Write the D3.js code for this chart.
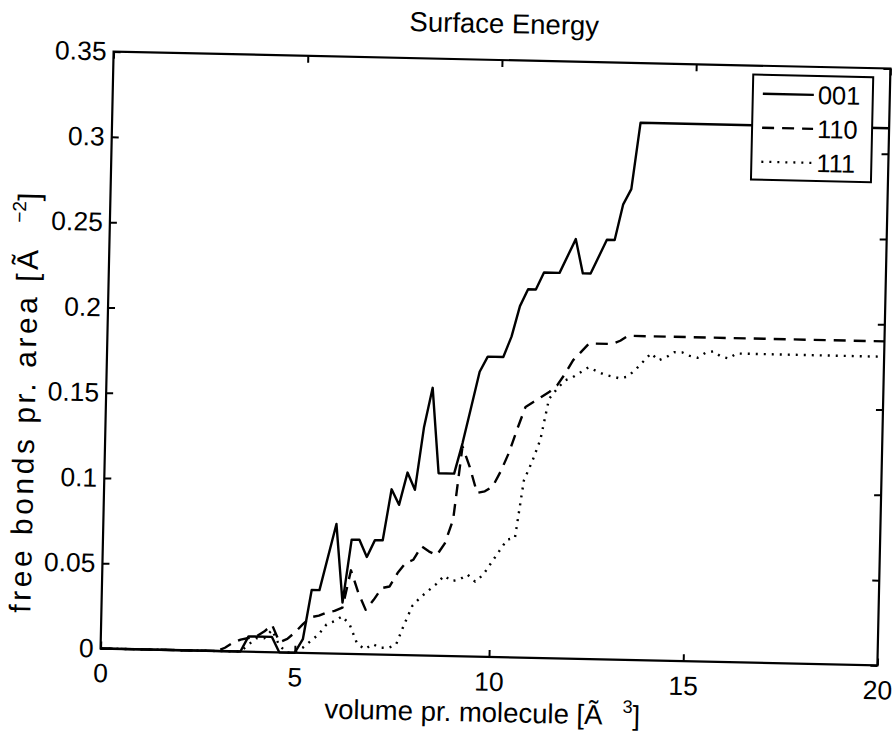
<!DOCTYPE html>
<html>
<head>
<meta charset="utf-8">
<script src="https://cdn.jsdelivr.net/npm/d3@7"></script>
<style>
  body { margin: 0; background: #fff; }
  svg text { font-family: "Liberation Sans", Arial, Helvetica, sans-serif; fill: #000; }
</style>
</head>
<body>
<svg id="chart" width="893" height="736"></svg>
<script>
// surface energy plot, free bonds per area vs volume per molecule
// values

// x (volume pr. molecule) and y (free bonds pr. area) for each facet
var x001 = [0, 3.6, 3.8, 4.4, 4.6, 5.0, 5.2, 5.4, 5.6, 6.0, 6.2, 6.4, 6.6, 6.8, 7.0, 7.2, 7.4, 7.6, 7.8, 8.0, 8.2, 8.4, 8.6, 9.0, 9.2, 9.4, 9.6, 9.8, 10.2, 10.4, 10.6, 10.8, 11.0, 11.2, 11.6, 12.0, 12.2, 12.4, 12.8, 13.0, 13.2, 13.4, 13.6, 20];
var y001 = [0, 0, 0.009, 0.009, 0, 0, 0.008, 0.037, 0.037, 0.076, 0.03, 0.067, 0.067, 0.057, 0.067, 0.067, 0.097, 0.088, 0.107, 0.097, 0.134, 0.157, 0.107, 0.107, 0.125, 0.146, 0.167, 0.176, 0.176, 0.188, 0.206, 0.216, 0.216, 0.226, 0.226, 0.246, 0.226, 0.226, 0.246, 0.246, 0.267, 0.276, 0.315, 0.315];

var x110 = [0, 3.0, 3.2, 3.4, 3.6, 3.8, 4.0, 4.2, 4.4, 4.6, 4.8, 5.0, 5.2, 5.4, 5.6, 5.8, 6.0, 6.2, 6.4, 6.6, 6.8, 7.0, 7.2, 7.4, 7.6, 7.8, 8.0, 8.2, 8.4, 8.6, 8.8, 9.0, 9.2, 9.4, 9.6, 9.8, 10.0, 10.2, 10.4, 10.6, 10.8, 11.0, 11.2, 11.4, 11.6, 11.8, 12.0, 12.2, 12.4, 13.0, 13.2, 13.4, 20];
var y110 = [0, 0, 0.002, 0.005, 0.007, 0.008, 0.009, 0.012, 0.016, 0.006, 0.008, 0.012, 0.017, 0.021, 0.022, 0.024, 0.025, 0.027, 0.049, 0.036, 0.026, 0.032, 0.039, 0.040, 0.048, 0.054, 0.056, 0.064, 0.061, 0.059, 0.066, 0.080, 0.123, 0.111, 0.096, 0.097, 0.100, 0.109, 0.120, 0.134, 0.147, 0.150, 0.153, 0.156, 0.160, 0.167, 0.175, 0.180, 0.185, 0.185, 0.187, 0.190, 0.190];

var x111 = [0, 3.6, 3.8, 4.0, 4.2, 4.4, 4.6, 4.8, 5.0, 5.2, 5.4, 5.6, 5.8, 6.0, 6.2, 6.4, 6.6, 6.8, 7.0, 7.2, 7.4, 7.6, 7.8, 8.0, 8.2, 8.4, 8.6, 8.8, 9.0, 9.2, 9.4, 9.6, 9.8, 10.0, 10.2, 10.4, 10.6, 10.8, 11.0, 11.2, 11.4, 11.6, 11.8, 12.0, 12.2, 12.4, 12.6, 12.8, 13.0, 13.2, 13.4, 13.6, 13.8, 14.0, 14.2, 14.4, 14.6, 14.8, 15.0, 15.2, 15.4, 15.6, 15.8, 16.0, 16.2, 20];
var y111 = [0, 0, 0.004, 0.008, 0.008, 0.013, 0.004, 0, 0, 0.003, 0.007, 0.011, 0.017, 0.019, 0.022, 0.017, 0.006, 0.003, 0.006, 0.004, 0.004, 0.006, 0.018, 0.029, 0.034, 0.038, 0.042, 0.047, 0.044, 0.045, 0.048, 0.044, 0.048, 0.055, 0.062, 0.069, 0.070, 0.104, 0.115, 0.128, 0.152, 0.158, 0.163, 0.165, 0.168, 0.171, 0.169, 0.167, 0.166, 0.165, 0.166, 0.170, 0.175, 0.180, 0.176, 0.178, 0.181, 0.181, 0.179, 0.178, 0.181, 0.182, 0.179, 0.178, 0.181, 0.181];

var seriesNames = ['001', '110', '111'];

// ticks
var xTicks = [0, 5, 10, 15, 20];
var yTicks = [0, 0.05, 0.1, 0.15, 0.2, 0.25, 0.3, 0.35];
var yTickLabels = ['0', '0.05', '0.1', '0.15', '0.2', '0.25', '0.3', '0.35'];

var svg = d3.select('#chart');

// plot box (the scan is a bit tilted, so the whole figure gets rotated a touch)
// note: can't call it "top", that's window.top
var boxLeft = 107, boxRight = 884, boxTop = 60, boxBottom = 657;
var tilt = 1.25;
var fig = svg.append('g')
    .attr('transform', 'rotate(' + tilt + ',' + (boxLeft + boxRight) / 2 + ',' + (boxTop + boxBottom) / 2 + ')');

var xScale = d3.scaleLinear().domain([0, 20]).range([boxLeft, boxRight]);
var yScale = d3.scaleLinear().domain([0, 0.35]).range([boxBottom, boxTop]);

// styles per series
var dashes = { '001': null, '110': '12,8', '111': '2,6' };
var seriesData = {
    '001': d3.zip(x001, y001),
    '110': d3.zip(x110, y110),
    '111': d3.zip(x111, y111)
};

var line = d3.line()
    .x(function (d) { return xScale(d[0]); })
    .y(function (d) { return yScale(d[1]); });

seriesNames.forEach(function (name) {
    fig.append('path')
        .datum(seriesData[name])
        .attr('d', line)
        .attr('fill', 'none')
        .attr('stroke', '#000')
        .attr('stroke-width', 2.4)
        .attr('stroke-linejoin', 'round')
        .attr('stroke-dasharray', dashes[name]);
});

// axes, ticks point inward like matlab
var tick = 7;
var xAxis = d3.axisBottom(xScale).tickValues(xTicks).tickSize(-tick).tickSizeOuter(0).tickPadding(15);
var yAxis = d3.axisLeft(yScale).tickValues(yTicks).tickSize(-tick).tickSizeOuter(0).tickPadding(7)
    .tickFormat(function (d, i) { return yTickLabels[i]; });

var gx = fig.append('g').attr('transform', 'translate(0,' + boxBottom + ')').call(xAxis);
var gy = fig.append('g').attr('transform', 'translate(' + boxLeft + ',0)').call(yAxis);
var gt = fig.append('g').attr('transform', 'translate(0,' + boxTop + ')')
    .call(d3.axisTop(xScale).tickValues(xTicks).tickSize(-tick).tickSizeOuter(0).tickFormat(''));
var gr = fig.append('g').attr('transform', 'translate(' + boxRight + ',0)')
    .call(d3.axisRight(yScale).tickValues(yTicks).tickSize(-tick).tickSizeOuter(0).tickFormat(''));

[gx, gy, gt, gr].forEach(function (g) {
    g.select('.domain').remove();
    g.selectAll('line').attr('stroke', '#000').attr('stroke-width', 2);
    g.selectAll('text').style('font-size', '26.5px').attr('fill', '#000');
});

fig.append('rect')
    .attr('x', boxLeft).attr('y', boxTop)
    .attr('width', boxRight - boxLeft).attr('height', boxBottom - boxTop)
    .attr('fill', 'none').attr('stroke', '#000').attr('stroke-width', 2.2);

// title and labels
fig.append('text')
    .attr('x', 497).attr('y', 33)
    .attr('text-anchor', 'middle')
    .style('font-size', '27.5px')
    .text('Surface Energy');

var xl = fig.append('text')
    .attr('x', 490).attr('y', 722)
    .attr('text-anchor', 'middle')
    .style('font-size', '27.5px');
xl.append('tspan').text('volume pr. molecule [Ã');
xl.append('tspan').attr('dx', 20).attr('dy', -12).style('font-size', '18px').text('3');
xl.append('tspan').attr('dy', 12).text(']');

// the y label runs longer in the scan, so fit it to its length there
fig.append('text')
    .attr('transform', 'translate(36,623) rotate(-90)')
    .attr('textLength', 363)
    .attr('lengthAdjust', 'spacing')
    .style('font-size', '30px')
    .text('free bonds pr. area [Ã');

var ysup = fig.append('text')
    .attr('transform', 'translate(36,233) rotate(-90)')
    .style('font-size', '30px');
ysup.append('tspan').attr('dy', -13).style('font-size', '19px').text('−2');
ysup.append('tspan').attr('dy', 13).text(']');

// legend
var leg = fig.append('g').attr('transform', 'translate(747,69)');
leg.append('rect')
    .attr('width', 120).attr('height', 105)
    .attr('fill', '#fff').attr('stroke', '#000').attr('stroke-width', 2);

var rows = leg.selectAll('g.row')
    .data(seriesNames)
    .enter()
    .append('g')
    .attr('class', 'row')
    .attr('transform', function (d, i) { return 'translate(0,' + (19 + i * 34) + ')'; });

rows.append('line')
    .attr('x1', 10).attr('x2', 61)
    .attr('stroke', '#000').attr('stroke-width', 2.3)
    .attr('stroke-dasharray', function (d) { return dashes[d]; });

rows.append('text')
    .attr('x', 65).attr('dy', '0.35em')
    .style('font-size', '25.5px')
    .text(function (d) { return d; });
</script>
</body>
</html>
